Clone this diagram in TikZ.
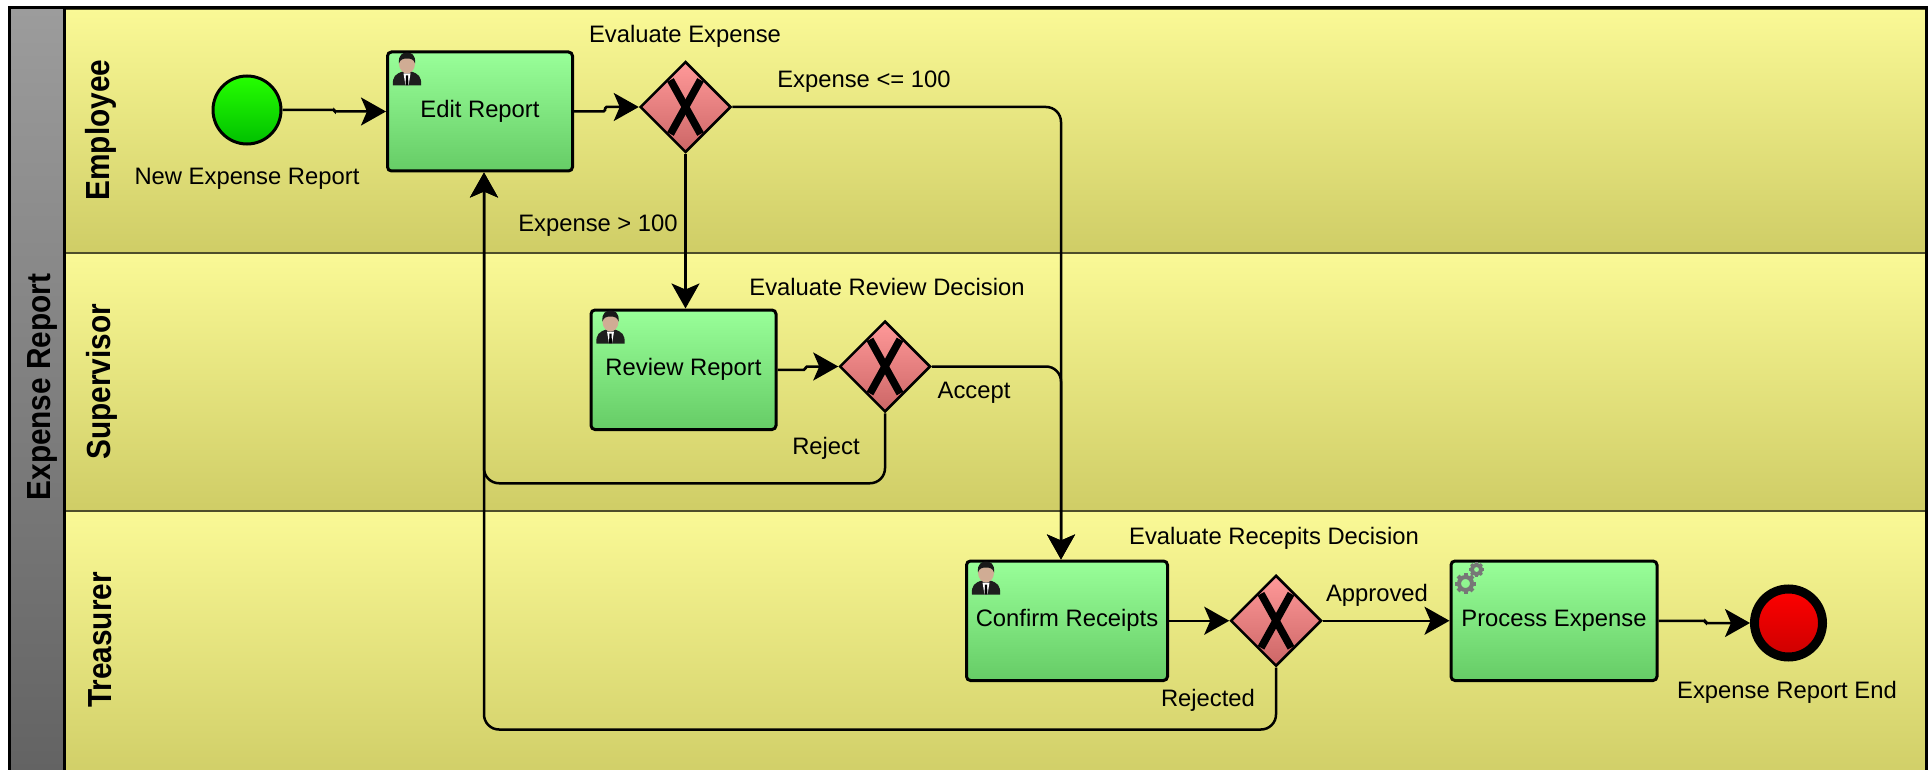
\documentclass[tikz,border=0pt]{standalone}
\usepackage{fontspec}
\setmainfont{Liberation Sans}
\usetikzlibrary{arrows.meta,shapes.geometric,calc}
\definecolor{laneTop}{HTML}{FAF996}
\definecolor{laneBot}{HTML}{CFCD66}
\definecolor{laneLine}{HTML}{4E4E2A}
\definecolor{greyTop}{HTML}{9C9C9C}
\definecolor{greyBot}{HTML}{636363}
\definecolor{taskTop}{HTML}{99FF99}
\definecolor{taskBot}{HTML}{66CC66}
\definecolor{gateTop}{HTML}{FF9999}
\definecolor{gateBot}{HTML}{CC6666}
\definecolor{startTop}{HTML}{26FF00}
\definecolor{startBot}{HTML}{00C000}
\definecolor{skin}{HTML}{D0AC94}
\definecolor{suit}{HTML}{1E1E1E}
\definecolor{gearCol}{HTML}{777777}
\tikzset{
  x=1pt,y=-1pt,
  lanebox/.style={draw=laneLine,line width=2pt,top color=laneTop,bottom color=laneBot},
  lanetitle/.style={rotate=90,font=\fontsize{29.8}{32}\selectfont\bfseries,inner sep=0pt},
  label/.style={font=\fontsize{23.8}{28}\selectfont,inner sep=0pt,text=black},
  taskbox/.style={draw=black,line width=3pt,rounded corners=4pt,top color=taskTop,bottom color=taskBot,
    font=\fontsize{23.8}{28}\selectfont,inner sep=0pt,anchor=north west},
  gate/.style={diamond,aspect=1,draw=black,line width=2.5pt,inner sep=0pt,minimum width=91pt,minimum height=91pt,
    top color=gateTop,bottom color=gateBot,
    path picture={\draw[black,line width=7.5pt] ([shift={(-15,-27)}]path picture bounding box.center) -- ([shift={(15,27)}]path picture bounding box.center);
      \draw[black,line width=7.5pt] ([shift={(15,-27)}]path picture bounding box.center) -- ([shift={(-15,27)}]path picture bounding box.center);}},
  flow/.style={draw=black,line width=2.5pt,rounded corners=15pt,-{Stealth[length=25pt,width=28pt,inset=6pt]}},
  personicon/.pic={
    \fill[suit] (0,33) .. controls (-1,24) and (3,21) .. (10,19) -- (18,19) .. controls (25,21) and (29,24) .. (28,33) -- cycle;
    \fill[white] (10.5,21) -- (17.5,21) -- (15.5,33) -- (12.5,33) -- cycle;
    \fill[black] (13,23) -- (15,23) -- (15.5,33) -- (12.5,33) -- cycle;
    \fill[skin] (14,11) ellipse[x radius=8,y radius=10];
    \fill[black!90] (6,11) .. controls (5,2) and (10,0) .. (14,0) .. controls (18,0) and (23,2) .. (22,11) .. controls (21,7) and (18,6) .. (14,6) .. controls (10,6) and (7,7) .. (6,11) -- cycle;
  },
  gearshape/.pic={
    \foreach \a in {0,45,...,315}{\fill[gearCol,rotate=\a] (-2,-10.5) rectangle (2,-6);}
    \draw[gearCol,line width=4pt] (0,0) circle[radius=6.5];
  },
}
\begin{document}
\begin{tikzpicture}
\useasboundingbox (0,0) rectangle (1931,770);
\fill[white] (0,0) rectangle (1931,770);
\begin{scope}
\clip (0,0) rectangle (1931,770);
% lanes
\path[lanebox] (64,9) rectangle (1926,253);
\path[lanebox] (64,253) rectangle (1926,511);
\path[lanebox] (64,511) rectangle (1926,785);
\path[top color=greyTop,bottom color=greyBot] (9,9) rectangle (64,770);
\draw[black,line width=3pt] (9,790) -- (9,8) -- (1926,8) -- (1926,790);
\draw[black,line width=3pt] (64,8) -- (64,790);
\end{scope}
% titles
\node[lanetitle] (tPool) at (42,387) {\scalebox{1}[1.12]{Expense Report}};
\node[lanetitle] (tEmp) at (101,130) {\scalebox{1}[1.12]{Employee}};
\node[lanetitle] (tSup) at (101.5,382) {\scalebox{1}[1.12]{Supervisor}};
\node[lanetitle] (tTre) at (100,640) {\scalebox{1}[1.12]{Treasurer}};
% events
\node[circle,draw=black,line width=3pt,minimum size=68pt,inner sep=0pt,top color=startTop,bottom color=startBot] (start) at (247,110) {};
\node[circle,draw=black,line width=9pt,minimum size=68pt,inner sep=0pt,top color=red,bottom color=red!80!black] (stop) at (1788.5,623) {};
% tasks
\node[taskbox,minimum width=185pt,minimum height=119pt] (edit) at (386,50.5) {Edit Report};
\node[taskbox,minimum width=185pt,minimum height=119.5pt] (review) at (589.5,308.5) {Review Report};
\node[taskbox,minimum width=201pt,minimum height=119.5pt] (confirm) at (965,559.5) {Confirm Receipts};
\node[taskbox,minimum width=206pt,minimum height=119.5pt] (process) at (1449.5,559.5) {Process Expense};
% icons
\pic at ([shift={(7,2)}]edit.north west) {personicon};
\pic at ([shift={(7,2)}]review.north west) {personicon};
\pic at ([shift={(7,2)}]confirm.north west) {personicon};
\pic at ([shift={(16,24)}]process.north west) {gearshape};
\pic[scale=.72] at ([shift={(27,10)}]process.north west) {gearshape};
% gateways
\node[gate] (g1) at (685.5,107) {};
\node[gate] (g2) at (885,366.5) {};
\node[gate] (g3) at (1276,620.75) {};
% waypoints
\coordinate (back) at ([xshift=4pt]edit.south);
\coordinate (in) at ([xshift=-6pt]confirm.north);
% connectors
\draw[flow,rounded corners=1pt] (start.east) -- ++(52,0) |- (edit.west);
\draw[flow,rounded corners=1.5pt] (edit.east) -- ++(31,0) |- (g1.west);
\draw[flow] (g1.east) -| (in);
\draw[flow] (g1.south) -- (g1.south |- review.north);
\draw[flow,rounded corners=1.5pt] (review.east) -- ++(28,0) |- (g2.west);
\draw[flow] (g2.east) -| (in);
\draw[flow] (g2.south) -- ++(0,70) -| (back);
\draw[flow] (confirm.east) -- (g3.west);
\draw[flow] (g3.east) -- (process.west);
\draw[flow] (g3.south) -- ++(0,62) -| (back);
\draw[flow,rounded corners=1.5pt] (process.east) -- ++(47,0) |- (stop.west);
% labels
\node[label] (l1) at (685,36) {Evaluate Expense};
\node[label] (l2) at (864,81.5) {Expense <= 100};
\node[label] (l3) at (247,179) {New Expense Report};
\node[label] (l4) at (598,226) {Expense > 100};
\node[label] (l5) at (887,287) {Evaluate Review Decision};
\node[label] (l6) at (974,392.5) {Accept};
\node[label] (l7) at (826,448) {Reject};
\node[label] (l8) at (1274,538) {Evaluate Recepits Decision};
\node[label] (l9) at (1377,595.5) {Approved};
\node[label] (l10) at (1208,700.5) {Rejected};
\node[label] (l11) at (1787,692) {Expense Report End};
\end{tikzpicture}
\end{document}
